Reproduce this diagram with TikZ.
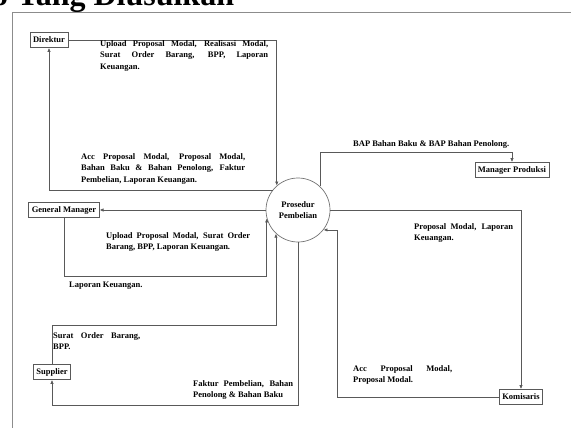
\documentclass[tikz,border=0pt]{standalone}
\usepackage{fontspec}
\setmainfont{Liberation Serif}
\usetikzlibrary{arrows.meta,calc}
\hyphenpenalty=10000
\exhyphenpenalty=10000
\tolerance=10000
\hbadness=10000
\begin{document}
\begin{tikzpicture}[x=1pt,y=-1pt,
  font=\bfseries\fontsize{8.5}{11.6}\selectfont,
  ent/.style={draw=black!65, line width=0.7pt, inner xsep=3pt, inner ysep=0pt, minimum height=15pt},
  proc/.style={circle, draw=black!55, line width=0.7pt, minimum size=64pt, inner sep=0pt, align=center},
  flow/.style={draw=black!65, line width=0.7pt, -{Latex[length=4pt,width=3.4pt]}},
  lbl/.style={anchor=north west, inner sep=0pt, align=justify},
  frame/.style={draw=black!45, line width=0.9pt}]
\useasboundingbox (0,0) rectangle (571,428);
\node[anchor=base west, inner sep=0pt, font=\bfseries\fontsize{32}{32}\selectfont] (title) at (-8,6) {o Yang Diusulkan};
\draw[frame] (12,440) -- (12,12) -- (580,12);

\node[ent] (dir) at (49,40) {Direktur};
\node[ent] (gm) at (64,210) {General Manager};
\node[ent] (sup) at (52,372) {Supplier};
\node[ent] (mp) at (512,170) {Manager Produksi};
\node[ent] (kom) at (521,397) {Komisaris};
\node[proc] (pro) at (298,210) {Prosedur\\Pembelian};

\coordinate (y276) at (0,276);
\coordinate (y325) at (0,325);
\coordinate (y405) at (0,405);
\coordinate (x337) at (337,0);

\draw[flow] (dir.east) -| (pro.131);
\draw[flow] (pro.142) -| (dir.south);
\draw[flow] (pro.west) -- (gm.east);
\draw[flow] (gm.south) |- (pro.195 |- y276) -- (pro.195);
\draw[flow] (sup.north) |- (pro.227 |- y325) -- (pro.227);
\draw[flow] (pro.south) -- (pro.south |- y405) -| (sup.south);
\draw[flow] (pro.47) |- ($(mp.north)+(0,-10)$) -- (mp.north);
\draw[flow] (pro.east) -| (kom.north);
\draw[flow] (kom.west) -| (x337 |- pro.322) -- (pro.322);

\node[lbl, text width=168pt] (l1) at (100,40) {Upload Proposal Modal, Realisasi Modal,\linebreak Surat Order Barang, BPP, Laporan\linebreak Keuangan.};
\node[lbl, text width=164pt] (l2) at (81,153) {Acc Proposal Modal, Proposal Modal,\linebreak Bahan Baku \& Bahan Penolong, Faktur\linebreak Pembelian, Laporan Keuangan.};
\node[lbl, text width=144pt] (l3) at (106,232) {Upload Proposal Modal, Surat Order\linebreak Barang, BPP, Laporan Keuangan.};
\node[lbl] (l4) at (69,282) {Laporan Keuangan.};
\node[lbl] (l5) at (353,140) {BAP Bahan Baku \& BAP Bahan Penolong.};
\node[lbl, text width=99pt] (l6) at (414,223) {Proposal Modal, Laporan\linebreak Keuangan.};
\node[lbl, text width=87pt] (l7) at (53,332) {Surat Order Barang,\linebreak BPP.};
\node[lbl, text width=100pt] (l8) at (193,380) {Faktur Pembelian, Bahan\linebreak Penolong \& Bahan Baku};
\node[lbl, text width=99pt] (l9) at (353,365) {Acc Proposal Modal,\linebreak Proposal Modal.};
\end{tikzpicture}
\end{document}
